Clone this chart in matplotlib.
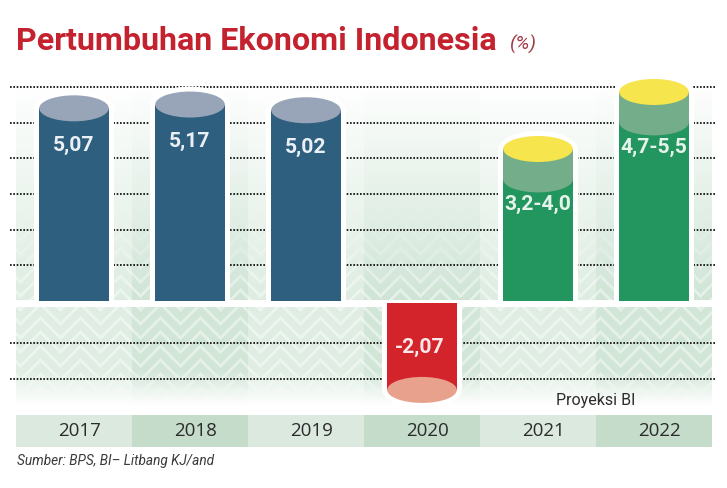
import numpy as np
import matplotlib
matplotlib.use("Agg")
import matplotlib.pyplot as plt
from matplotlib.patches import Rectangle, Ellipse

# ---------------- data ----------------
years = ["2017", "2018", "2019", "2020", "2021", "2022"]
actual_years = ["2017", "2018", "2019", "2020"]
actual_values = [5.07, 5.17, 5.02, -2.07]
proj_years = ["2021", "2022"]
proj_low = [3.2, 4.7]
proj_high = [4.0, 5.5]
actual_labels = ["5,07", "5,17", "5,02", "-2,07"]
proj_labels = ["3,2-4,0", "4,7-5,5"]

title = "Pertumbuhan Ekonomi Indonesia"
unit = "(%)"
source = "Sumber: BPS, BI\u2013 Litbang KJ/and"
proj_note = "Proyeksi BI"

# ---------------- styling ----------------
W_PX, H_PX = 727, 488
X0, X1 = 16, 712          # plot region in px
YTOP, YBOT = 70, 447
ZERO_PX = 301
UNIT_PX = 38.0
COL_PX = (X1 - X0) / 6.0

def py2d(p):
    return (ZERO_PX - p) / UNIT_PX

C_BLUE = "#2e5f7e"
C_BLUE_TOP = "#98a4b7"
C_RED = "#d3242c"
C_RED_END = "#e8a18d"
C_GREEN = "#23955f"
C_GREEN_MID = "#74ad89"
C_YELLOW = "#f6e54d"
C_TITLE = "#c4222f"
BAND_LIGHT = "#dce9df"
BAND_DARK = "#c5dccb"

fig = plt.figure(figsize=(W_PX / 100, H_PX / 100), dpi=100)
ax = fig.add_axes([X0 / W_PX, (H_PX - YBOT) / H_PX, (X1 - X0) / W_PX, (YBOT - YTOP) / H_PX])
ax.set_xlim(-0.5, 5.5)
ax.set_ylim(py2d(YBOT), py2d(YTOP))
ax.axis("off")

# ---------------- decorative background ----------------
H = YBOT - YTOP
Wd = X1 - X0
yy, xx = np.mgrid[0:H, 0:Wd]
py = yy + YTOP
px = xx + X0
col = (xx // COL_PX).astype(int)
dark = (col % 2 == 1)
green_l = np.array([0.870, 0.928, 0.885])
green_d = np.array([0.815, 0.897, 0.840])
g = np.where(dark[..., None], green_d, green_l)
white = np.ones(3)

strength = np.zeros((H, Wd))
pos = py < 300
t = np.clip((py - 85) / (300 - 85), 0, 1) ** 0.9
strength[pos] = t[pos]
neg = (py >= 307) & (py < 410)
s_neg = np.clip((405 - py) / 35.0, 0, 1)
strength[neg] = (0.95 * s_neg)[neg]

chev = ((np.abs((px % 40) - 20) + py) % 14) < 3.5
chev_w = np.clip((py - 200) / 90.0, 0, 1)
chev_w = np.where(py >= 307, 1.0, chev_w)

img = white * (1 - strength[..., None]) + g * strength[..., None]
light = (chev & (strength > 0))[..., None] * (0.45 * chev_w * strength)[..., None]
img = img * (1 - light) + white * light
ax.imshow(img, extent=(-0.5, 5.5, py2d(YBOT), py2d(YTOP)), aspect="auto",
          zorder=0, interpolation="bilinear")

# year band
band_top, band_bot = py2d(415), py2d(YBOT)
xs = np.arange(len(years))
ax.bar(xs, band_top - band_bot, bottom=band_bot, width=1.0,
       color=[BAND_LIGHT if i % 2 == 0 else BAND_DARK for i in range(len(years))],
       zorder=1, linewidth=0)
for i, yr in enumerate(years):
    ax.text(i + 0.045, (band_top + band_bot) / 2, yr, ha="center", va="center",
            fontsize=13.5, color="#2b2b2b", family=["Open Sans", "DejaVu Sans"], zorder=5)

# grid lines (decorative)
grid_step = 35.7 / UNIT_PX
pos_grid = [k * grid_step for k in range(1, 7)]
neg_grid = [py2d(342.7), py2d(378.7)]
xg0, xg1 = -0.5 - 6 / COL_PX, 5.5 + 4 / COL_PX
ax.hlines(pos_grid + neg_grid, xg0, xg1, colors="#000000", linestyles=(0, (1, 1)),
          linewidth=1.2, zorder=1, clip_on=False)

# ---------------- cylinders ----------------
BW = 0.6
EH = 26 / UNIT_PX
DX = 5 / COL_PX
DY = 5 / UNIT_PX

def outline(x, y0, y1, cap_y):
    ax.add_patch(Rectangle((x - BW / 2 - DX, min(y0, y1)), BW + 2 * DX, abs(y1 - y0),
                           color="white", zorder=2, lw=0))
    ax.add_patch(Ellipse((x, cap_y), BW + 2 * DX, EH + 2 * DY, color="white", zorder=2, lw=0))

for yr, v, lab in zip(actual_years, actual_values, actual_labels):
    x = years.index(yr)
    if v >= 0:
        outline(x, 0, v, v)
        ax.add_patch(Rectangle((x - BW / 2, 0), BW, v, color=C_BLUE, zorder=3, lw=0))
        ax.add_patch(Ellipse((x, v), BW, EH, color=C_BLUE_TOP, zorder=3, lw=0))
        ax.text(x, v - 0.98, lab, ha="center", va="center", fontsize=15.2,
                fontweight="bold", color="#eaf0f6", family=["Roboto", "DejaVu Sans"], zorder=4)
    else:
        top = py2d(303)
        bot = v - 0.27
        outline(x, py2d(300), bot, bot)
        ax.add_patch(Rectangle((x - BW / 2, bot), BW, top - bot, color=C_RED, zorder=3, lw=0))
        ax.add_patch(Ellipse((x, bot), BW, EH, color=C_RED_END, zorder=3, lw=0))
        ax.text(x - 0.02, v + 0.86, lab, ha="center", va="center", fontsize=15.2,
                fontweight="bold", color="#fbe9e9", family=["Roboto", "DejaVu Sans"], zorder=4)

for yr, lo, hi, lab in zip(proj_years, proj_low, proj_high, proj_labels):
    x = years.index(yr)
    outline(x, 0, hi, hi)
    ax.add_patch(Rectangle((x - BW / 2, 0), BW, lo, color=C_GREEN, zorder=3, lw=0))
    ax.add_patch(Rectangle((x - BW / 2, lo), BW, hi - lo, color=C_GREEN_MID, zorder=3, lw=0))
    ax.add_patch(Ellipse((x, lo), BW, EH, color=C_GREEN_MID, zorder=3, lw=0))
    ax.add_patch(Ellipse((x, hi), BW, EH, color=C_YELLOW, zorder=3, lw=0))
    ax.text(x, lo - 0.65, lab, ha="center", va="center", fontsize=15.2,
            fontweight="bold", color="#e6f3ea", family=["Roboto", "DejaVu Sans"], zorder=4)

# projection note
ax.text(4.5, py2d(400), proj_note, ha="center", va="center", fontsize=11.5,
        color="#2b2b2b", family=["Roboto", "DejaVu Sans"], zorder=5)

# ---------------- titles ----------------
fig.text(16 / W_PX, 1 - 50 / H_PX, title, ha="left", va="baseline", fontsize=23.2,
         fontweight="bold", color=C_TITLE, family=["Roboto", "DejaVu Sans"])
fig.text(510 / W_PX, 1 - 50 / H_PX, unit, ha="left", va="baseline", fontsize=14,
         style="italic", color="#a13b47", family=["Roboto", "DejaVu Sans"])
fig.text(17 / W_PX, 1 - 465 / H_PX, source, ha="left", va="baseline", fontsize=9.8,
         style="italic", color="#3a3a3a", family=["Roboto", "DejaVu Sans"])

fig.savefig("out.png", dpi=100)
